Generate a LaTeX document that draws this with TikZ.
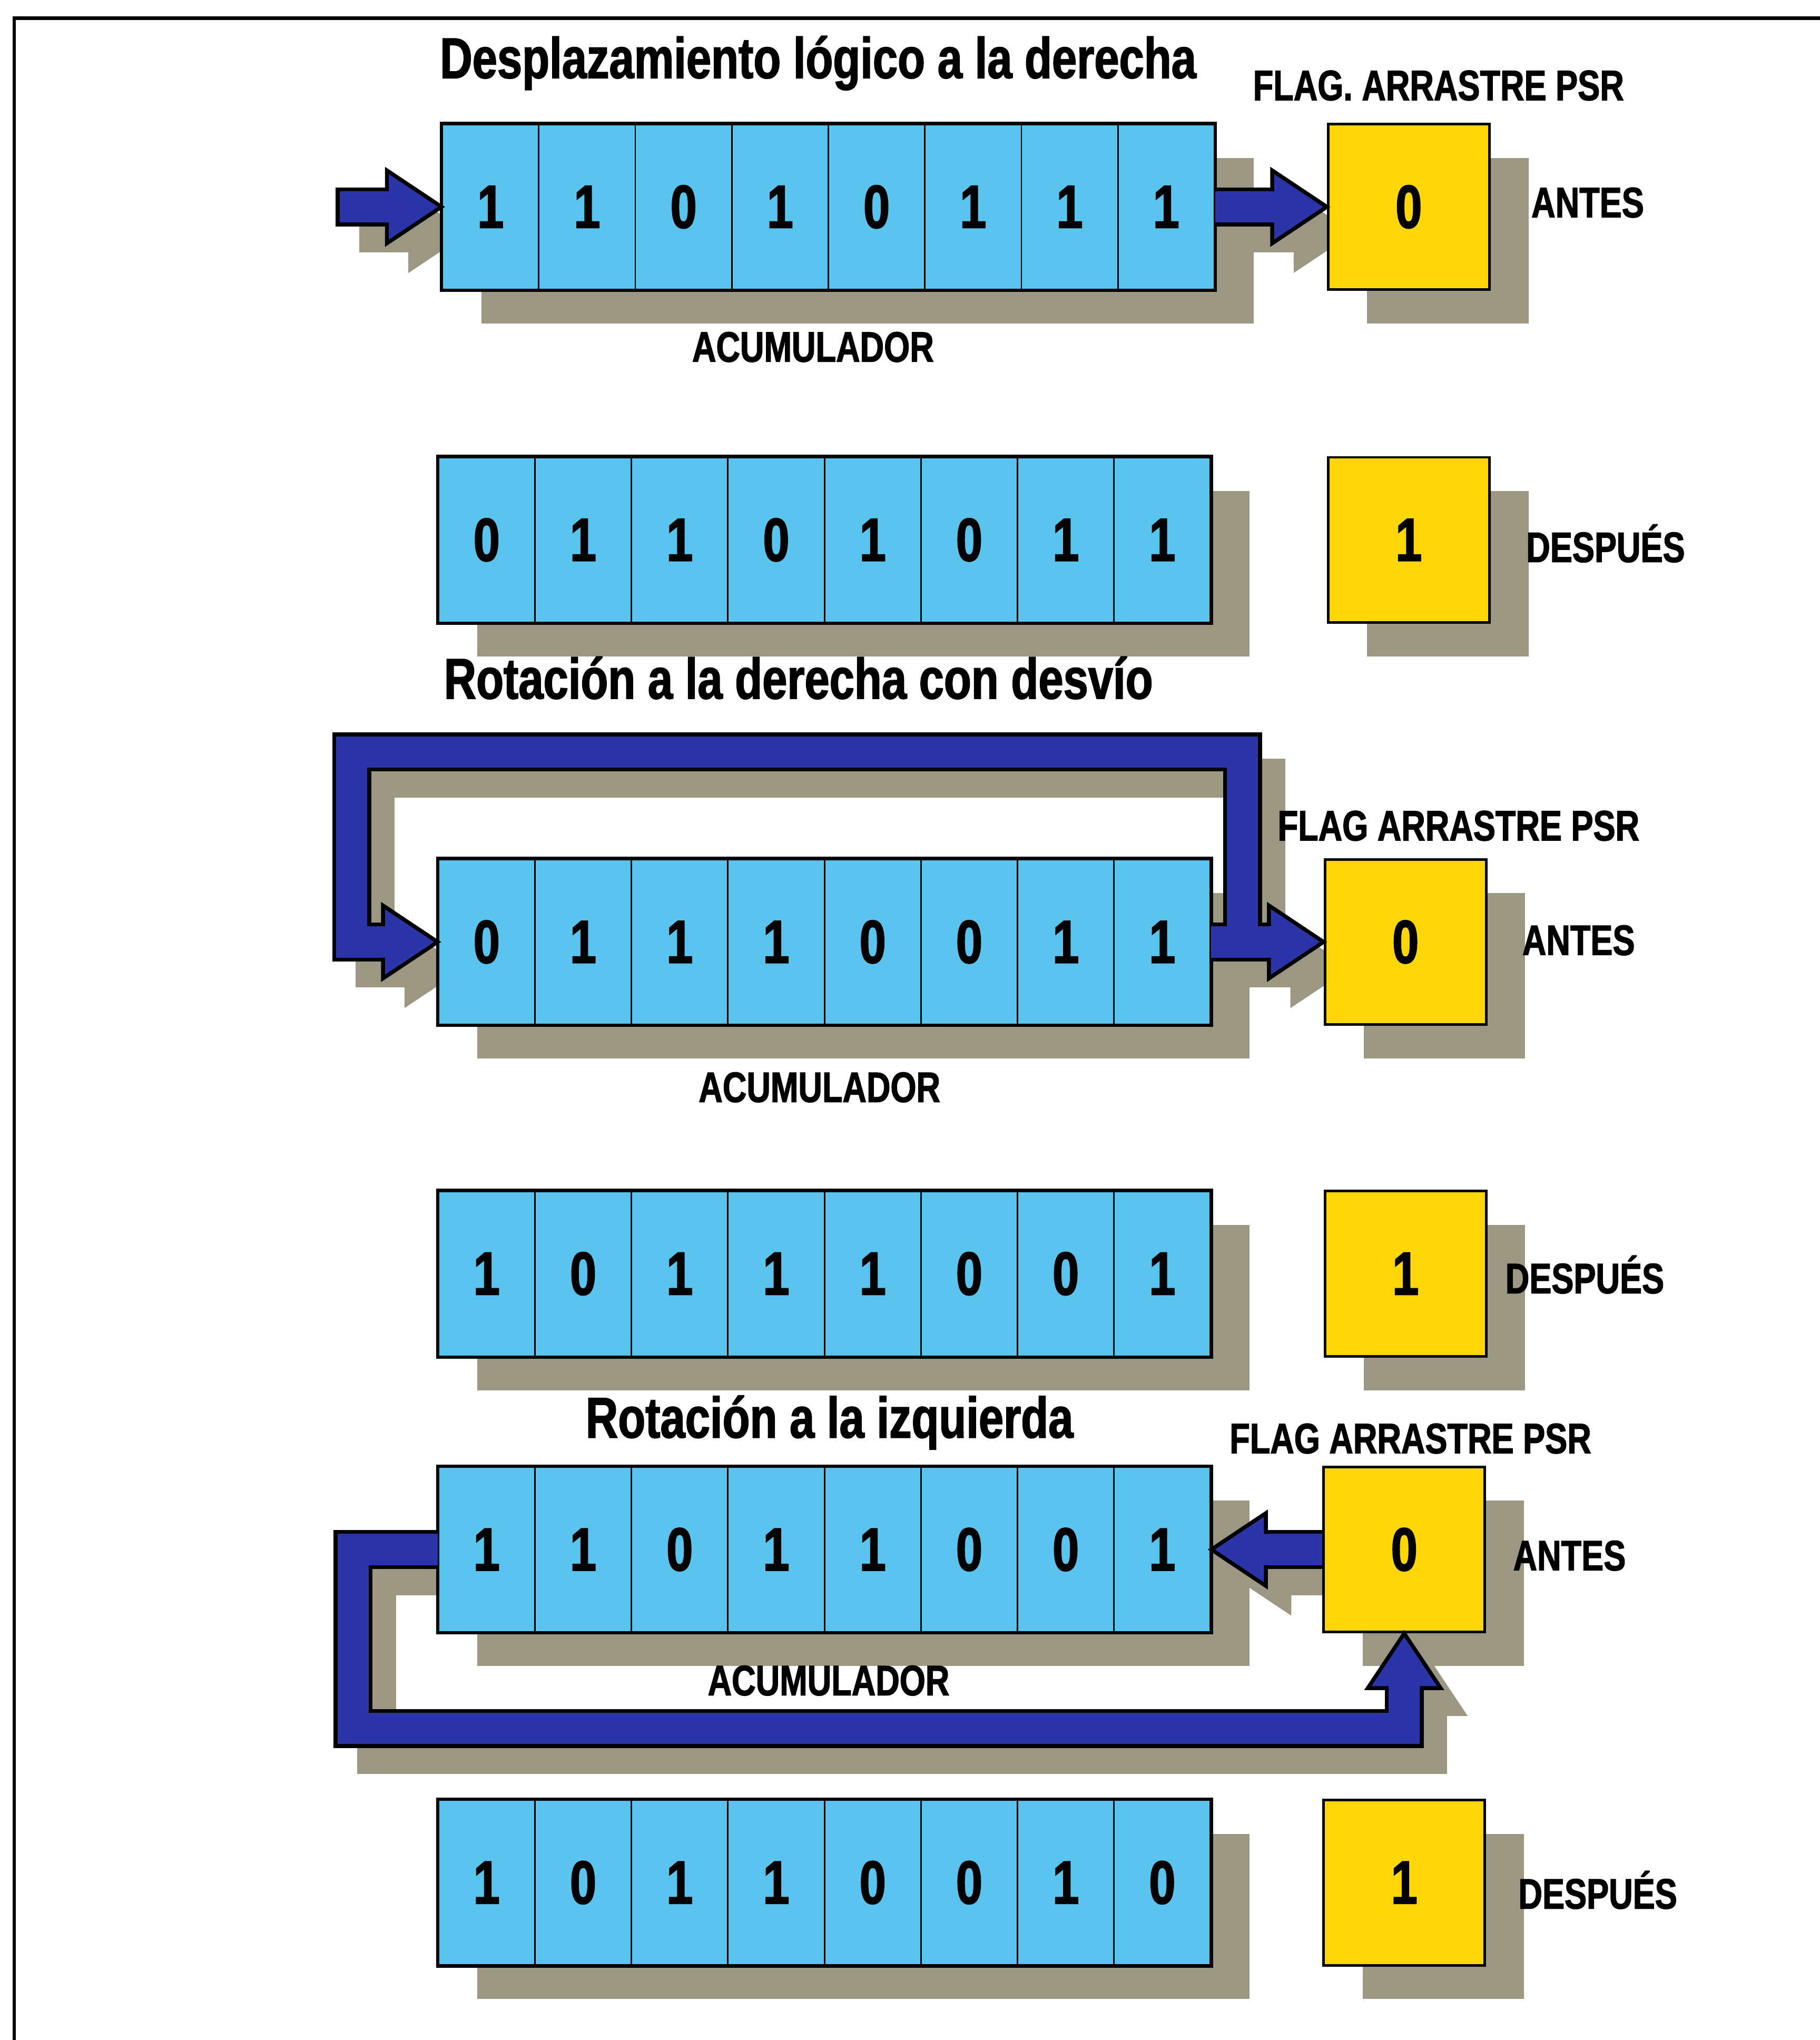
\documentclass[tikz,border=0pt]{standalone}
\usepackage{fontspec}
\newfontfamily\heavyfont{Liberation Sans}[UprightFont=* Bold, FakeStretch=0.78, FakeBold=1.6]
\usetikzlibrary{calc,shadows}
\definecolor{regblue}{HTML}{5BC4EE}
\definecolor{flagyellow}{HTML}{FFD60A}
\definecolor{arrowblue}{HTML}{2C35A8}
\definecolor{shadowgray}{HTML}{9C9782}
\newlength\upx
\setlength\upx{0.24696mm}
\pgfdeclarelayer{bg}
\pgfsetlayers{bg,main}

\begin{document}
\begin{tikzpicture}[x=0.24696mm,y=-0.24696mm,
  boxshade/.style={drop shadow={shadow xshift=30\upx, shadow yshift=-26\upx, fill=shadowgray, opacity=1}},
  cell/.style={draw, line width=0.8pt, fill=regblue, minimum width=74.2\upx, minimum height=127\upx,
    inner sep=0pt, font=\heavyfont\fontsize{33}{36}\selectfont, boxshade},
  flagbox/.style={draw, line width=1.4pt, fill=flagyellow, minimum width=124\upx, minimum height=127\upx,
    inner sep=0pt, font=\heavyfont\fontsize{33}{36}\selectfont, boxshade},
  regframe/.style={line width=1.8pt},
  title/.style={anchor=base west, inner sep=0pt, font=\heavyfont\fontsize{31}{36}\selectfont},
  lbl/.style={anchor=base west, inner sep=0pt, font=\heavyfont\fontsize{23}{28}\selectfont},
  band/.style={draw=black, line width=30\upx, line join=miter, postaction={draw=arrowblue, line width=24\upx}},
  bandshade/.style={draw=shadowgray, line width=30\upx, line join=miter},
  head/.pic={
    \fill[arrowblue] (0,0) -- (-42,-28) -- (-42,28) -- cycle;
    \draw[line width=3\upx, line join=miter] (-42,-12) -- (-42,-28) -- (0,0) -- (-42,28) -- (-42,12);
  },
  headshade/.pic={\filldraw[shadowgray, line width=3\upx] (0,0) -- (-42,-28) -- (-42,28) -- cycle;}]
  \useasboundingbox (0,0) rectangle (1399,1568);
  \draw[line width=1.8pt] (11,1568) -- (11,14) -- (1399,14);

  % desplazamiento logico a la derecha
  \node[title] (t1) at (338,60) {Desplazamiento lógico a la derecha};
  \node[lbl] (fl1) at (963,77) {FLAG. ARRASTRE PSR};
  \foreach \b [count=\i] in {1,1,0,1,0,1,1,1}
    \node[cell] (a\i) at ({340+74.2*(\i-0.5)},159) {\b};
  \draw[regframe] (a1.north west) rectangle (a8.south east);
  \node[flagbox] (fa) at (1083,159) {0};
  \node[lbl] (ant1) at (1177,167) {ANTES};
  \node[lbl,anchor=base] (acc1) at (625,278) {ACUMULADOR};
  \foreach \b [count=\i] in {0,1,1,0,1,0,1,1}
    \node[cell] (b\i) at ({337+74.2*(\i-0.5)},415) {\b};
  \draw[regframe] (b1.north west) rectangle (b8.south east);
  \node[flagbox] (fb) at (1083,415) {1};
  \node[lbl] (des1) at (1173,432) {DESPUÉS};

  % rotacion a la derecha con desvio
  \node[title] (t2) at (341,537) {Rotación a la derecha con desvío};
  \node[lbl] (fl2) at (982,646) {FLAG ARRASTRE PSR};
  \foreach \b [count=\i] in {0,1,1,1,0,0,1,1}
    \node[cell] (c\i) at ({337+74.2*(\i-0.5)},724) {\b};
  \draw[regframe] (c1.north west) rectangle (c8.south east);
  \node[flagbox] (fc) at (1080.5,724) {0};
  \node[lbl] (ant2) at (1170,734) {ANTES};
  \node[lbl,anchor=base] (acc2) at (630,847) {ACUMULADOR};
  \foreach \b [count=\i] in {1,0,1,1,1,0,0,1}
    \node[cell] (d\i) at ({337+74.2*(\i-0.5)},979) {\b};
  \draw[regframe] (d1.north west) rectangle (d8.south east);
  \node[flagbox] (fd) at (1080.5,979) {1};
  \node[lbl] (des2) at (1157,994) {DESPUÉS};

  % rotacion a la izquierda
  \node[title] (t3) at (450,1105) {Rotación a la izquierda};
  \node[lbl] (fl3) at (945,1117) {FLAG ARRASTRE PSR};
  \foreach \b [count=\i] in {1,1,0,1,1,0,0,1}
    \node[cell] (e\i) at ({337+74.2*(\i-0.5)},1191) {\b};
  \draw[regframe] (e1.north west) rectangle (e8.south east);
  \node[flagbox] (fe) at (1079.5,1191) {0};
  \node[lbl] (ant3) at (1163,1207) {ANTES};
  \node[lbl,anchor=base] (acc3) at (637,1303) {ACUMULADOR};
  \foreach \b [count=\i] in {1,0,1,1,0,0,1,0}
    \node[cell] (f\i) at ({337+74.2*(\i-0.5)},1447) {\b};
  \draw[regframe] (f1.north west) rectangle (f8.south east);
  \node[flagbox] (ff) at (1079.5,1447) {1};
  \node[lbl] (des3) at (1167,1467) {DESPUÉS};

  \coordinate (ina) at (273,159);

  % sombras de las flechas
  \begin{pgfonlayer}{bg}
    \begin{scope}[transform canvas={xshift=18\upx, yshift=-20\upx}]
      \draw[bandshade, line cap=rect] (ina) -- ($(a1.west)+(-42,0)$);
      \draw[bandshade] (a8.east) -- ($(fa.west)+(-42,0)$);
      \draw[bandshade] (c8.east) -- ($(fc.west)+(-42,0)$)
        ($(c8.east)+(24,0)$) -- ++(0,-146) -| ($(c1.west)+(-66,0)$) -- ($(c1.west)+(-42,0)$);
      \draw[bandshade] (fe.west) -- ($(e8.east)+(42,0)$)
        (e1.west) -- ++(-65,0) |- ($(fe.south)+(0,73)$) -- ($(fe.south)+(0,42)$);
      \pic at (a1.west) {headshade};
      \pic at (fa.west) {headshade};
      \pic at (fc.west) {headshade};
      \pic at (c1.west) {headshade};
      \pic[rotate=180] at (e8.east) {headshade};
      \pic[rotate=90] at (fe.south) {headshade};
    \end{scope}
  \end{pgfonlayer}

  % flechas
  \draw[band, line cap=rect] (ina) -- ($(a1.west)+(-42,0)$);
  \pic at (a1.west) {head};
  \draw[band] (a8.east) -- ($(fa.west)+(-42,0)$);
  \pic at (fa.west) {head};
  \draw[band] (c8.east) -- ($(fc.west)+(-42,0)$)
    ($(c8.east)+(24,0)$) -- ++(0,-146) -| ($(c1.west)+(-66,0)$) -- ($(c1.west)+(-42,0)$);
  \pic at (fc.west) {head};
  \pic at (c1.west) {head};
  \draw[band] (fe.west) -- ($(e8.east)+(42,0)$)
    (e1.west) -- ++(-65,0) |- ($(fe.south)+(0,73)$) -- ($(fe.south)+(0,42)$);
  \pic[rotate=180] at (e8.east) {head};
  \pic[rotate=90] at (fe.south) {head};
\end{tikzpicture}
\end{document}
